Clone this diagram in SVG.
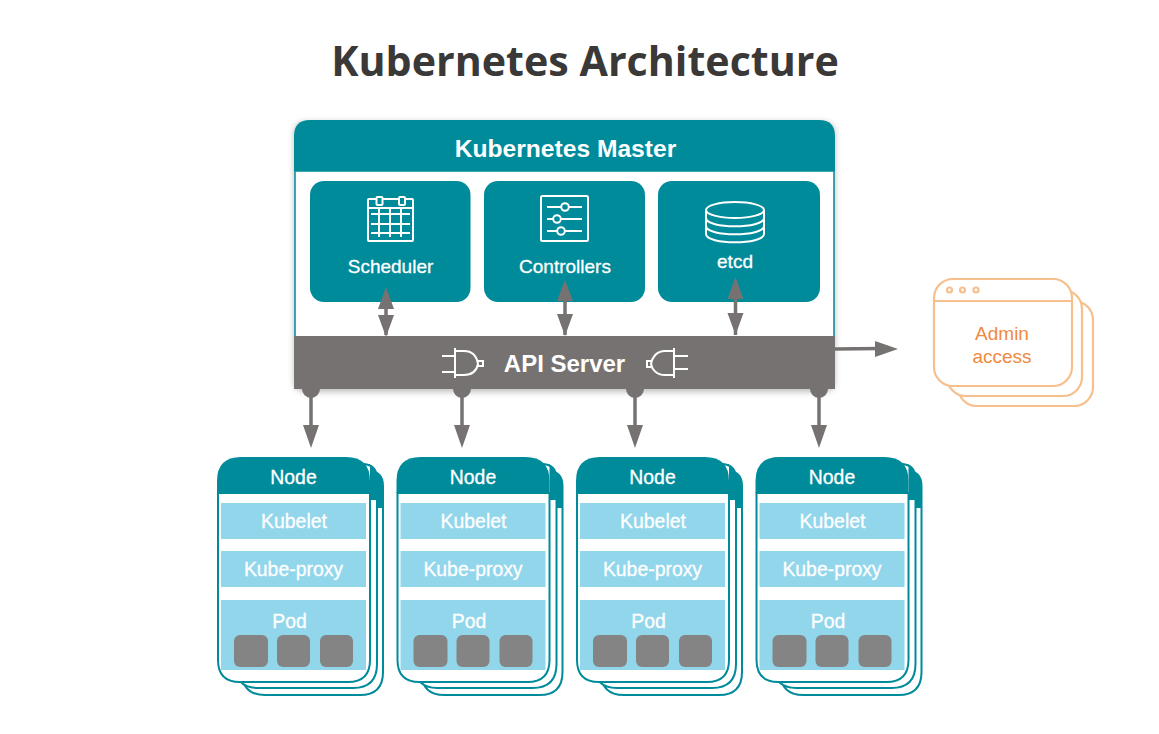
<svg xmlns="http://www.w3.org/2000/svg" width="1159" height="734" viewBox="0 0 1159 734">
<defs>
<filter id="sh" x="-5%" y="-5%" width="110%" height="112%"><feGaussianBlur stdDeviation="3"/></filter>
<g id="nodecard">
<path d="M255 471H368Q383 471 383 486V672Q383 695 360 695H265Q242 695 242 672V490" fill="#fff" stroke="#008b9b" stroke-width="2"/>
<path d="M368 471Q383 471 383 486V508H376V471Z" fill="#008b9b"/>
<path d="M248 464H362Q377 464 377 479V664Q377 688 353 688H258Q235 688 235 664V480" fill="#fff" stroke="#008b9b" stroke-width="2"/>
<path d="M362 464Q377 464 377 479V500H370V464Z" fill="#008b9b"/>
<path d="M218 493V660Q218 682 240 682H348Q370 682 370 660V493Z" fill="#fff" stroke="#008b9b" stroke-width="2"/>
<path d="M217 493V481Q217 457 241 457H346Q370 457 370 481V493Z" fill="#008b9b"/>
<rect x="221" y="503" width="145" height="36" fill="#92d6ec"/>
<rect x="221" y="551" width="145" height="36" fill="#92d6ec"/>
<rect x="221" y="600" width="145" height="70" fill="#92d6ec"/>
<rect x="234" y="635" width="34" height="32" rx="6" fill="#848484"/>
<rect x="277" y="635" width="33" height="32" rx="6" fill="#848484"/>
<rect x="320" y="635" width="33" height="32" rx="6" fill="#848484"/>
</g>
</defs>
<style>
text{font-family:"Liberation Sans",Arial,sans-serif;text-anchor:middle}
.t{fill:#fff;font-size:19px;stroke:#fff;stroke-width:.3}
.n{fill:#fff;font-size:19.400px;stroke:#fff;stroke-width:.3}
.ic{fill:none;stroke:#fff;stroke-width:2}
.c{stroke:#767272;stroke-width:3.5;fill:none}
.h{fill:#767272}
.o{fill:#fff;stroke:#f6bf8c;stroke-width:2.2}
.a{fill:#f08a3e;font-size:19px}
</style>
<rect width="1159" height="734" fill="#fff"/>
<text x="585" y="76" style="font-family:'Open Sans',sans-serif;font-weight:700;font-size:41.200px;fill:#3b3838">Kubernetes Architecture</text>

<g id="master">
<rect x="294" y="122" width="541" height="270" rx="10" fill="#000" opacity=".25" filter="url(#sh)"/>
<path d="M295 171V388H834V171Z" fill="#fff" stroke="#008b9b" stroke-width="1.5"/>
<path d="M294 171V136Q294 120 310 120H819Q835 120 835 136V171Z" fill="#008b9b"/>
<text x="565.500" y="157" style="fill:#fff;font-size:24.600px;font-weight:700">Kubernetes Master</text>
</g>
<g id="scheduler">
<rect x="310" y="181" width="160.500" height="121" rx="14" fill="#008b9b"/>
<g class="ic"><rect x="368" y="199" width="45" height="42" rx="1"/><path d="M368 208H413M371 214H410M371 224H410M371 233H410M379 208V237M390 208V237M401 208V237"/><rect x="376.500" y="197" width="6" height="8" rx="1" fill="#008b9b"/><rect x="399" y="197" width="6" height="8" rx="1" fill="#008b9b"/></g>
<text class="t" x="390.500" y="273">Scheduler</text>
</g>
<g id="controllers">
<rect x="484" y="181" width="161" height="121" rx="14" fill="#008b9b"/>
<g class="ic"><rect x="541" y="196" width="47" height="45" rx="1.500"/><path d="M547 207H582M547 219H582M547 231H582"/><circle cx="565" cy="207" r="3.800" fill="#008b9b"/><circle cx="557" cy="219" r="3.800" fill="#008b9b"/><circle cx="561" cy="231" r="3.800" fill="#008b9b"/></g>
<text class="t" x="565" y="273">Controllers</text>
</g>
<g id="etcd">
<rect x="658" y="181" width="162" height="121" rx="14" fill="#008b9b"/>
<g class="ic"><ellipse cx="735" cy="210" rx="29" ry="8"/><path d="M706 210V234C706 245 764 245 764 234V210M706 218C706 229 764 229 764 218M706 226C706 237 764 237 764 226"/></g>
<text class="t" x="735" y="268">etcd</text>
</g>
<g id="api-server">
<rect x="294" y="336" width="541" height="53" fill="#767272"/>
<g class="ic"><path d="M442 356H456M442 372H456M455 348V378M455 351H464C474 351 477 358 478 364C477 369 474 375 464 375H455M478 361H483V366H478M483 364H484"/><path d="M688 356H673M688 369H673M674 348V378M674 351H665C656 351 652 358 651 364C652 369 656 375 665 375H674M651 361H647V367H651"/></g>
<text x="564.500" y="372" style="fill:#fff;font-size:24px;font-weight:700">API Server</text>
</g>

<g id="connectors">
<path class="c" d="M386 300V335M565 300V335M735.500 290V335M835 349L880 348.500"/>
<path class="h" d="M386 287L394 309H378ZM386 337L378 315H394ZM565 280L573 301H557ZM565 336L557 314H573ZM735.500 277L743.500 299H727.500ZM735.500 335L727.500 313H743.500ZM898 349L875 341V357Z"/>
<path class="c" d="M311 392V425M462 392V425M635 392V425M819 392V425"/>
<path class="h" d="M302 389A9 9 0 0 0 320 389ZM453 389A9 9 0 0 0 471 389ZM626 389A9 9 0 0 0 644 389ZM810 389A9 9 0 0 0 828 389ZM311 448L303 425H319ZM462 448L454 425H470ZM635 448L627 425H643ZM819 448L811 425H827Z"/>
</g>

<g id="admin-access">
<rect class="o" x="958" y="301" width="135" height="105" rx="19"/>
<rect class="o" x="947" y="290" width="135" height="106" rx="19"/>
<rect class="o" x="934" y="279" width="138" height="107" rx="19"/>
<path class="o" d="M934 301H1072"/>
<circle class="o" cx="949.500" cy="290" r="2.500"/><circle class="o" cx="962.500" cy="290" r="2.500"/><circle class="o" cx="976" cy="290" r="2.500"/>
<text class="a" x="1002" y="340">Admin</text>
<text class="a" x="1002" y="363">access</text>
</g>

<g id="node-1"><use href="#nodecard"/><text class="n" x="293.500" y="484">Node</text><text class="n" x="294" y="528">Kubelet</text><text class="n" x="293.500" y="576">Kube-proxy</text><text class="n" x="289.500" y="628">Pod</text></g>
<g id="node-2" transform="translate(179.500 0)"><use href="#nodecard"/><text class="n" x="293.500" y="484">Node</text><text class="n" x="294" y="528">Kubelet</text><text class="n" x="293.500" y="576">Kube-proxy</text><text class="n" x="289.500" y="628">Pod</text></g>
<g id="node-3" transform="translate(359 0)"><use href="#nodecard"/><text class="n" x="293.500" y="484">Node</text><text class="n" x="294" y="528">Kubelet</text><text class="n" x="293.500" y="576">Kube-proxy</text><text class="n" x="289.500" y="628">Pod</text></g>
<g id="node-4" transform="translate(538.500 0)"><use href="#nodecard"/><text class="n" x="293.500" y="484">Node</text><text class="n" x="294" y="528">Kubelet</text><text class="n" x="293.500" y="576">Kube-proxy</text><text class="n" x="289.500" y="628">Pod</text></g>
</svg>
